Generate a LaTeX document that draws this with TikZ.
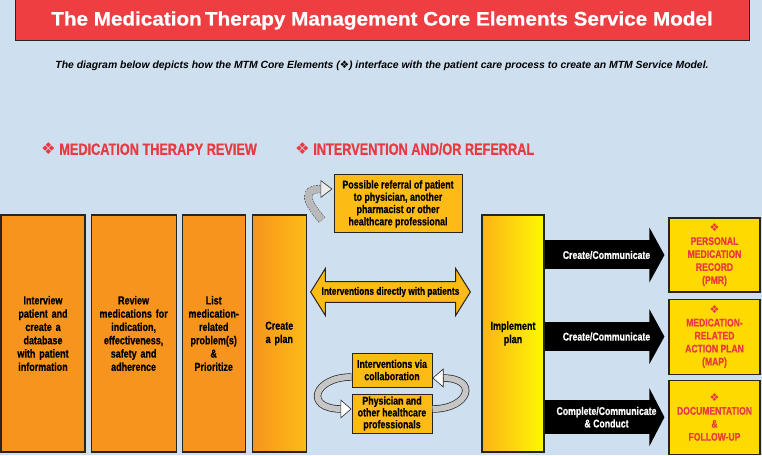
\documentclass[tikz,border=0pt]{standalone}
\usepackage{fontspec}
\setmainfont{Liberation Sans}
\newfontfamily\cond[FakeStretch=0.78, FakeBold=0.6]{Liberation Sans}
\newfontfamily\wide[FakeStretch=1.06, FakeBold=0.6]{Liberation Sans}
\newfontfamily\symb{DejaVu Sans}
\usepackage{xcolor}
\usetikzlibrary{positioning, arrows.meta, calc, shapes.arrows}

\definecolor{bgblue}{RGB}{206,224,240}
\definecolor{titlered}{RGB}{238,62,66}
\definecolor{headred}{RGB}{232,58,66}
\definecolor{mtmorange}{RGB}{247,148,29}
\definecolor{mtmgold}{RGB}{253,187,22}
\definecolor{mtmyellow}{RGB}{255,218,0}
\definecolor{boxline}{RGB}{40,36,34}

\newcommand{\core}{{\symb\char"2756}}

\begin{document}
\begin{tikzpicture}[x=1pt, y=1pt, node distance=5pt, >=Stealth]
        % Styles
        \tikzset{
            reviewbox/.style={draw=boxline, line width=1.1pt, fill=mtmorange, minimum height=237pt, align=center, inner sep=1pt, font=\cond\bfseries\fontsize{11.5}{13.3}\selectfont},
            goldbox/.style={draw=boxline, line width=1pt, fill=mtmgold, align=center, inner sep=1pt, font=\cond\bfseries\fontsize{11.3}{12.3}\selectfont},
            elementbox/.style={draw=boxline, line width=1.1pt, fill=mtmyellow, text=headred, minimum width=91pt, align=center, inner sep=1pt, font=\cond\bfseries\fontsize{11}{13}\selectfont},
            fatarrow/.style={line width=29pt, draw=black, -{Triangle[length=15pt, width=54pt]}, shorten >=4pt},
            arrowlabel/.style={text=white, align=center, font=\cond\bfseries\fontsize{11.2}{12.5}\selectfont},
            loopband/.style={line width=6pt, draw=gray!45, preaction={draw=boxline, line width=7.4pt}},
            loophead/.style={draw=boxline, line width=.6pt, -{Triangle[length=11pt, width=19pt, fill=white]}},
            refband/.style={line width=7pt, draw=gray!55, preaction={draw=black!70, line width=8.2pt, dash pattern=on 1.5pt off 1pt}},
            refhead/.style={draw=black!75, line width=.7pt, -{Triangle[length=12pt, width=18pt, fill=gray!15]}},
            sectionhead/.style={anchor=west, text=headred, inner sep=0pt, font=\cond\bfseries\fontsize{16.3}{18}\selectfont}
        }

        \fill[bgblue] (0,0) rectangle (762,455);
        \useasboundingbox (0,0) rectangle (762,455);

        % Title
        \node [draw=boxline, line width=1pt, fill=titlered, minimum width=734pt, minimum height=41pt, text=white, font=\wide\bfseries\fontsize{19.5}{21}\selectfont] (title) at (382,434.5) {The Medication\,Therapy Management Core Elements Service Model};
        \node [font=\bfseries\itshape\fontsize{10.4}{12}\selectfont] (subtitle) at (382,389) {The diagram below depicts how the MTM Core Elements (\core) interface with the patient care process to create an MTM Service Model.};

        \node [sectionhead] (mtr) at (41,306) {\core\ MEDICATION THERAPY REVIEW};
        \node [sectionhead] (ior) at (295,306) {\core\ INTERVENTION AND/OR REFERRAL};

        % Review nodes
        \node [reviewbox, minimum width=84pt, text width=80pt] (interview) at (43,121.5) {Interview\\patient and\\create a\\database\\with patient\\information};
        \node [reviewbox, minimum width=85pt, text width=81pt, right=5pt of interview] (review) {Review\\medications for\\indication,\\effectiveness,\\safety and\\adherence};
        \node [reviewbox, minimum width=63pt, text width=60pt, right=5pt of review] (problems) {List\\medication-\\related\\problem(s)\\\&\\Prioritize};
        \node [reviewbox, minimum width=54pt, text width=50pt, right=6pt of problems, left color=mtmorange, middle color=mtmorange!55!mtmgold, right color=mtmgold] (plan) {Create\\a plan};

        % Intervention nodes
        \node [goldbox, minimum width=128pt, minimum height=58pt] (referral) at (398,251) {Possible referral of patient\\to physician, another\\pharmacist or other\\healthcare professional};
        \node [double arrow, draw=boxline, line width=1pt, fill=mtmgold, minimum height=159pt, minimum width=47pt, double arrow head extend=12pt, double arrow tip angle=116, inner sep=4pt, font=\cond\bfseries\fontsize{10.7}{12}\selectfont] (direct) at (390.5,163) {Interventions directly with patients};
        \node [goldbox, minimum width=80pt, minimum height=34pt] (collab) at (392,85) {Interventions via\\collaboration};
        \node [goldbox, minimum width=80pt, minimum height=39pt, below=6pt of collab, font=\cond\bfseries\fontsize{11.3}{11.8}\selectfont] (physician) {Physician and\\other healthcare\\professionals};

        \node [reviewbox, minimum width=62pt, text width=60pt, left color=mtmgold!80!mtmorange, middle color=yellow!85!mtmgold, right color=yellow!90!mtmgold] (implement) at (513,121.5) {Implement\\plan};

        % Core element nodes
        \node [elementbox, minimum height=74pt] (pmr) at (714.5,200) {\core\\PERSONAL\\MEDICATION\\RECORD\\(PMR)};
        \node [elementbox, minimum height=75pt, below=6pt of pmr] (map) {\core\\MEDICATION-\\RELATED\\ACTION PLAN\\(MAP)};
        \node [elementbox, minimum height=74pt, below=5pt of map] (followup) {\core\\DOCUMENTATION\\\&\\FOLLOW-UP};

        % Arrows
        \draw [fatarrow] (implement.east |- pmr.west) -- node[arrowlabel]{Create/Communicate} (pmr.west);
        \draw [fatarrow] (implement.east |- map.west) -- node[arrowlabel]{Create/Communicate} (map.west);
        \draw [fatarrow, line width=34pt, -{Triangle[length=15pt, width=57pt]}] (implement.east |- followup.west) -- node[arrowlabel]{Complete/Communicate\\\& Conduct} (followup.west);

        \coordinate (reftail) at (322,235);
        \draw [refband] (reftail) to[out=130, in=180, looseness=1.8] ([xshift=-12pt, yshift=15pt]referral.west);
        \draw [refhead] ([xshift=-12pt, yshift=15pt]referral.west) -- ([xshift=-1pt, yshift=15pt]referral.west);

        \draw [loopband] ([yshift=-7pt]collab.west) to[out=180, in=180, looseness=2.9] ([xshift=-10pt, yshift=4.5pt]physician.west);
        \draw [loophead] ([xshift=-11pt, yshift=4.5pt]physician.west) -- ([yshift=4.5pt]physician.west);
        \draw [loopband] ([yshift=4.5pt]physician.east) to[out=0, in=0, looseness=2.9] ([xshift=10pt, yshift=-8pt]collab.east);
        \draw [loophead] ([xshift=11pt, yshift=-8pt]collab.east) -- ([yshift=-8pt]collab.east);
    \end{tikzpicture}
\end{document}
